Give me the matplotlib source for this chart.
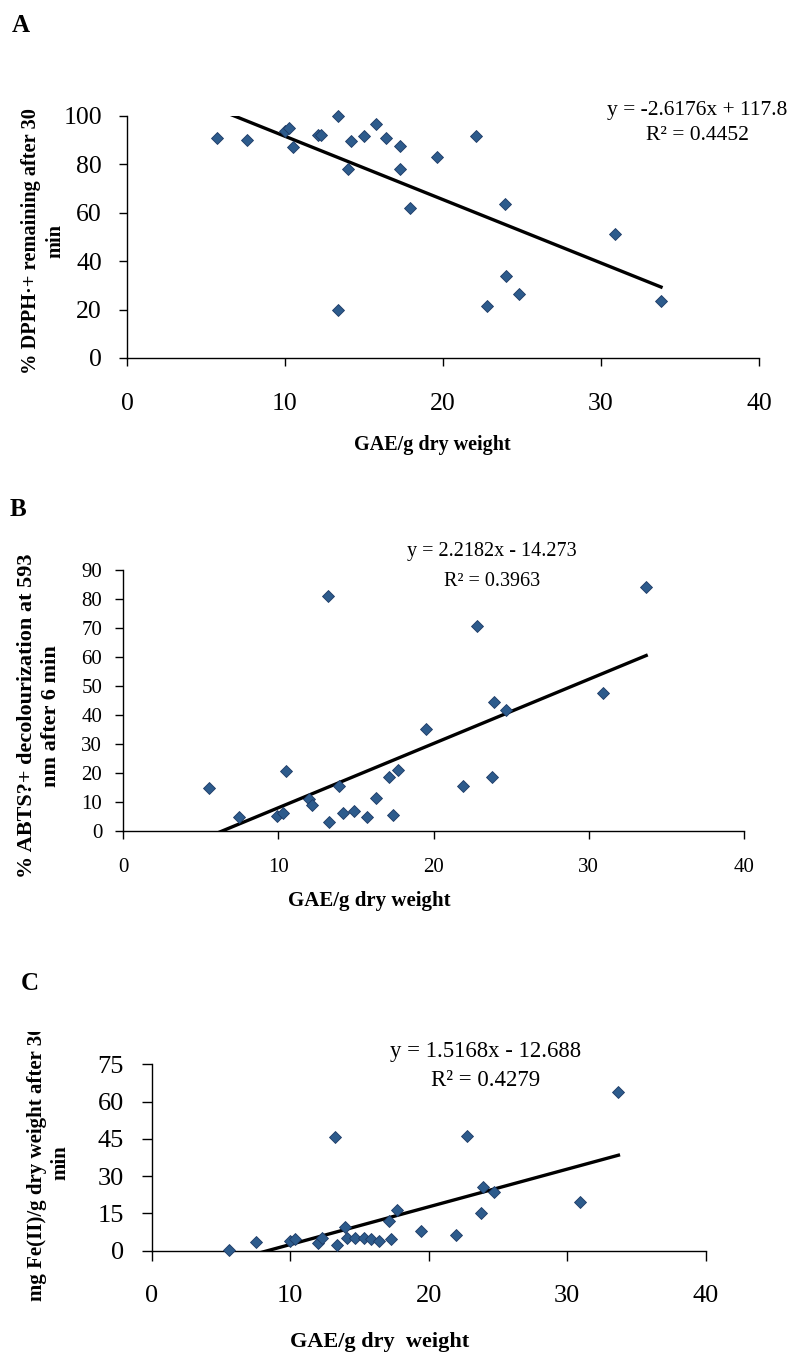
"""Three-panel antioxidant-vs-phenolics scatter figure (A: DPPH, B: ABTS, C: FRAP)."""

import matplotlib
matplotlib.use("Agg")
import matplotlib.pyplot as plt
from matplotlib.transforms import Bbox, TransformedBbox

plt.rcParams["font.family"] = ["Liberation Serif", "DejaVu Serif"]

W, H = 789, 1355

# ---- Panel A: DPPH ----
gae_a = [5.7, 7.6, 10.0, 10.25, 10.5, 12.1, 12.3, 13.35, 13.35, 14.0, 14.2, 15.0, 15.75,
         16.4, 17.3, 17.3, 17.9, 19.6, 22.1, 22.8, 23.9, 24.0, 24.8, 30.9, 33.8]
dpph = [90.9, 90.1, 93.8, 95.0, 87.2, 92.1, 92.1, 100.0, 19.8, 78.1, 89.7, 91.7, 96.7,
        90.9, 87.6, 78.1, 62.0, 83.0, 91.7, 21.5, 63.6, 33.9, 26.4, 51.2, 23.5]
fit_a = (-2.6176, 117.8)
r2_a = 0.4452
yticks_a = [0, 20, 40, 60, 80, 100]

# ---- Panel B: ABTS ----
gae_b = [5.55, 7.5, 9.9, 10.3, 10.5, 12.0, 12.2, 13.2, 13.3, 13.9, 14.15, 14.9, 15.7,
         16.3, 17.15, 17.4, 17.7, 19.5, 21.9, 22.8, 23.8, 23.9, 24.7, 30.9, 33.7]
abts = [14.7, 4.9, 5.1, 6.2, 20.7, 10.9, 8.9, 81.0, 3.1, 15.4, 6.0, 6.9, 4.8,
        11.2, 18.6, 5.4, 21.0, 35.0, 15.4, 70.7, 18.6, 44.5, 41.7, 47.6, 84.2]
fit_b = (2.2182, -14.273)
r2_b = 0.3963
yticks_b = [0, 10, 20, 30, 40, 50, 60, 70, 80, 90]

# ---- Panel C: FRAP ----
gae_c = [5.6, 7.5, 10.0, 10.35, 12.0, 12.3, 13.2, 13.35, 13.95, 14.1, 14.7, 15.3, 15.8,
         16.4, 17.1, 17.3, 17.7, 19.45, 22.0, 22.8, 23.8, 23.9, 24.7, 30.9, 33.7]
frap = [0.3, 3.6, 4.0, 4.6, 3.0, 5.0, 45.9, 2.3, 9.4, 5.0, 5.0, 5.2, 4.6,
        4.0, 12.0, 4.6, 16.4, 7.9, 6.3, 46.3, 15.3, 25.8, 23.5, 19.5, 64.0]
fit_c = (1.5168, -12.688)
r2_c = 0.4279
yticks_c = [0, 15, 30, 45, 60, 75]

xticks = [0, 10, 20, 30, 40]

MARKER_FACE = "#2d5b8c"
MARKER_EDGE = "#1d3a66"


def fx(px):
    return px / W


def fy(py):
    return 1 - py / H


def axes_rect(left, top, right, bottom):
    return [fx(left), fy(bottom), (right - left) / W, (bottom - top) / H]


def eq_text(slope, intercept):
    sign = "+" if intercept >= 0 else "-"
    return f"y = {slope:.4f}x {sign} {abs(intercept):g}"


def draw_panel(ax, x, y, fit, yticks, tick_size, xpad, ypad, ticklen):
    slope, intercept = fit
    x0, x1 = min(x), max(x)
    ax.plot([x0, x1], [slope * x0 + intercept, slope * x1 + intercept],
            color="black", linewidth=2.4, zorder=2)
    ax.plot(x, y, linestyle="none", marker="D", markersize=6.4,
            markerfacecolor=MARKER_FACE, markeredgecolor=MARKER_EDGE,
            markeredgewidth=0.6, clip_on=False, zorder=3)
    ax.set_xlim(0, 40)
    ax.set_ylim(yticks[0], yticks[-1])
    ax.set_xticks(xticks)
    ax.set_yticks(yticks)
    for side in ("top", "right"):
        ax.spines[side].set_visible(False)
    for side in ("left", "bottom"):
        ax.spines[side].set_linewidth(1.0)
    ax.tick_params(axis="both", direction="out", length=ticklen, width=1.0,
                   labelsize=tick_size)
    ax.tick_params(axis="x", pad=xpad)
    ax.tick_params(axis="y", pad=ypad)
    ax.patch.set_alpha(0)


fig = plt.figure(figsize=(W / 100, H / 100), dpi=100)

# ---- A ----
ax_a = fig.add_axes(axes_rect(127, 116, 759, 358))
draw_panel(ax_a, gae_a, dpph, fit_a, yticks_a, 18.5, 19, 12, 6)
fig.text(fx(12), fy(26), "A", fontsize=18, fontweight="bold", va="center")
fig.text(fx(43), fy(241), "% DPPH·+ remaining after 30\nmin", rotation=90,
         ha="center", va="center", multialignment="center",
         fontsize=14.7, fontweight="bold", linespacing=1.3)
fig.text(fx(432), fy(445), "GAE/g dry weight", ha="center", va="center",
         fontsize=14.5, fontweight="bold")
fig.text(fx(697), fy(110), eq_text(*fit_a), ha="center", va="center", fontsize=15.5)
fig.text(fx(697), fy(135), f"R² = {r2_a}", ha="center", va="center", fontsize=15.5)

# ---- B ----
ax_b = fig.add_axes(axes_rect(123, 570, 744, 830.7))
draw_panel(ax_b, gae_b, abts, fit_b, yticks_b, 15, 14, 9, 6)
fig.text(fx(10), fy(509), "B", fontsize=18, fontweight="bold", va="center")
fig.text(fx(39), fy(716), "% ABTS?+ decolourization at 593\nnm after 6 min",
         rotation=90, ha="center", va="center", multialignment="center",
         fontsize=16, fontweight="bold", linespacing=1.25)
fig.text(fx(369), fy(901), "GAE/g dry weight", ha="center", va="center",
         fontsize=15, fontweight="bold")
fig.text(fx(492), fy(551), eq_text(*fit_b), ha="center", va="center", fontsize=14.5)
fig.text(fx(492), fy(581), f"R² = {r2_b}", ha="center", va="center", fontsize=14.5)

# ---- C ----
ax_c = fig.add_axes(axes_rect(151.7, 1064.3, 705.7, 1250.7))
draw_panel(ax_c, gae_c, frap, fit_c, yticks_c, 19, 18, 13, 7)
fig.text(fx(21), fy(984), "C", fontsize=18, fontweight="bold", va="center")
lab_c = fig.text(fx(49), fy(1163), "mg Fe(II)/g dry weight after 30\nmin",
                 rotation=90, ha="center", va="center", multialignment="center",
                 fontsize=15, fontweight="bold", linespacing=1.2)
# the original chart area cuts the top of this label off
lab_c.set_clip_box(TransformedBbox(Bbox([[0, 0], [1, fy(1032)]]), fig.transFigure))
lab_c.set_clip_on(True)
fig.text(fx(380), fy(1342), "GAE/g dry  weight", ha="center", va="center",
         fontsize=16, fontweight="bold")
fig.text(fx(486), fy(1051), eq_text(*fit_c), ha="center", va="center", fontsize=16.4)
fig.text(fx(486), fy(1080), f"R² = {r2_c}", ha="center", va="center", fontsize=16.4)

fig.savefig("out.png", dpi=100)
